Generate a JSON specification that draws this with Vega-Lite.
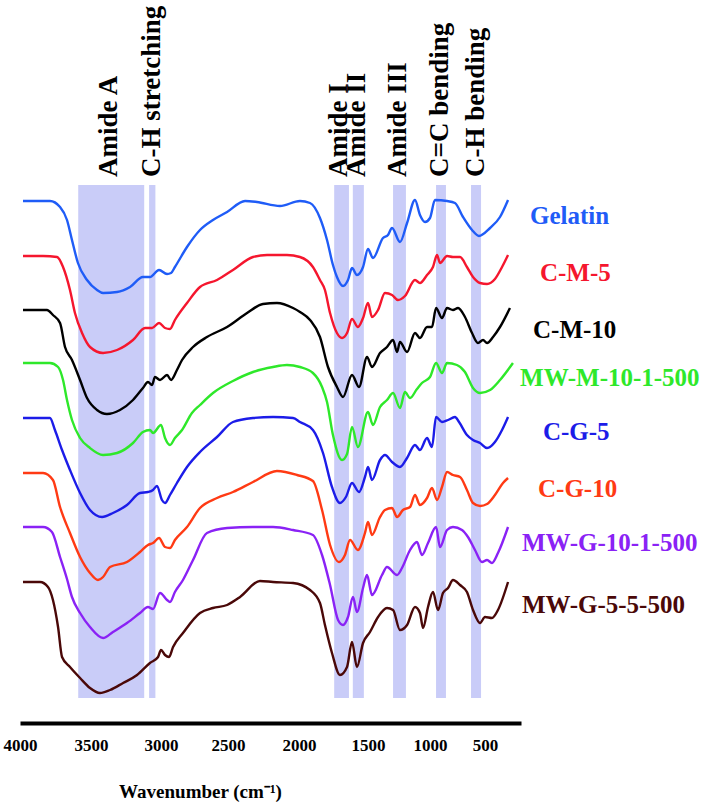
{
  "$schema": "https://vega.github.io/schema/vega-lite/v6.json",
  "width": 690,
  "height": 723,
  "autosize": "none",
  "padding": {"left": 20, "top": 0, "right": 0, "bottom": 85},
  "background": "white",
  "config": {"view": {"stroke": null}},
  "datasets": {
    "bands": [
      {"band": "Amide A", "x": 3590, "xe": 3120},
      {"band": "C-H stretching", "x": 3085, "xe": 3040},
      {"band": "Amide I", "x": 1745, "xe": 1638},
      {"band": "Amide II", "x": 1610, "xe": 1530},
      {"band": "Amide III", "x": 1298, "xe": 1194},
      {"band": "C=C bending", "x": 945, "xe": 855},
      {"band": "C-H bending", "x": 627, "xe": 536}
    ],
    "bandLabels": [
      {"label": "Amide A", "x": 3370},
      {"label": "C-H stretching", "x": 3064},
      {"label": "Amide I", "x": 1712},
      {"label": "Amide II", "x": 1578},
      {"label": "Amide III", "x": 1262},
      {"label": "C=C bending", "x": 905},
      {"label": "C-H bending", "x": 578}
    ],
    "seriesLabels": [
      {"s": "Gelatin", "x": 125, "y": 50.7},
      {"s": "C-M-5", "x": 42, "y": 45.0},
      {"s": "C-M-10", "x": 100, "y": 39.3},
      {"s": "MW-M-10-1-500", "x": 208, "y": 34.5},
      {"s": "C-G-5", "x": 17, "y": 29.1},
      {"s": "C-G-10", "x": 58, "y": 23.4},
      {"s": "MW-G-10-1-500", "x": 192, "y": 18.0},
      {"s": "MW-G-5-5-500", "x": 192, "y": 11.8}
    ],
    "spectra": [
      {"s":"Gelatin","x":3979,"y":52.2},{"s":"Gelatin","x":3789,"y":52.2},{"s":"Gelatin","x":3718,"y":51.6},{"s":"Gelatin","x":3669,"y":50.3},{"s":"Gelatin","x":3634,"y":48.3},{"s":"Gelatin","x":3592,"y":46.0},{"s":"Gelatin","x":3528,"y":44.3},{"s":"Gelatin","x":3457,"y":43.3},{"s":"Gelatin","x":3414,"y":43.0},{"s":"Gelatin","x":3314,"y":43.1},{"s":"Gelatin","x":3221,"y":43.6},{"s":"Gelatin","x":3129,"y":44.6},{"s":"Gelatin","x":3079,"y":44.6},{"s":"Gelatin","x":3014,"y":45.3},{"s":"Gelatin","x":2955,"y":44.9},{"s":"Gelatin","x":2925,"y":45.0},{"s":"Gelatin","x":2896,"y":45.6},{"s":"Gelatin","x":2806,"y":47.6},{"s":"Gelatin","x":2709,"y":49.3},{"s":"Gelatin","x":2612,"y":50.3},{"s":"Gelatin","x":2507,"y":51.1},{"s":"Gelatin","x":2380,"y":52.2},{"s":"Gelatin","x":2296,"y":52.1},{"s":"Gelatin","x":2134,"y":51.7},{"s":"Gelatin","x":1993,"y":52.2},{"s":"Gelatin","x":1920,"y":52.0},{"s":"Gelatin","x":1848,"y":50.5},{"s":"Gelatin","x":1797,"y":48.3},{"s":"Gelatin","x":1754,"y":45.8},{"s":"Gelatin","x":1725,"y":44.6},{"s":"Gelatin","x":1681,"y":43.7},{"s":"Gelatin","x":1645,"y":44.3},{"s":"Gelatin","x":1616,"y":45.5},{"s":"Gelatin","x":1580,"y":44.8},{"s":"Gelatin","x":1536,"y":45.6},{"s":"Gelatin","x":1500,"y":47.4},{"s":"Gelatin","x":1460,"y":46.5},{"s":"Gelatin","x":1379,"y":48.5},{"s":"Gelatin","x":1339,"y":48.8},{"s":"Gelatin","x":1306,"y":49.5},{"s":"Gelatin","x":1242,"y":48.1},{"s":"Gelatin","x":1185,"y":50.0},{"s":"Gelatin","x":1121,"y":52.3},{"s":"Gelatin","x":1081,"y":50.8},{"s":"Gelatin","x":1040,"y":50.1},{"s":"Gelatin","x":1000,"y":50.5},{"s":"Gelatin","x":955,"y":52.3},{"s":"Gelatin","x":845,"y":52.2},{"s":"Gelatin","x":773,"y":52.0},{"s":"Gelatin","x":700,"y":50.6},{"s":"Gelatin","x":618,"y":49.3},{"s":"Gelatin","x":555,"y":48.7},{"s":"Gelatin","x":458,"y":49.5},{"s":"Gelatin","x":375,"y":50.6},{"s":"Gelatin","x":308,"y":52.3},
      {"s":"C-M-5","x":3979,"y":46.7},{"s":"C-M-5","x":3838,"y":46.7},{"s":"C-M-5","x":3739,"y":46.6},{"s":"C-M-5","x":3697,"y":45.6},{"s":"C-M-5","x":3648,"y":43.3},{"s":"C-M-5","x":3613,"y":41.0},{"s":"C-M-5","x":3563,"y":39.0},{"s":"C-M-5","x":3507,"y":37.6},{"s":"C-M-5","x":3414,"y":37.0},{"s":"C-M-5","x":3314,"y":37.3},{"s":"C-M-5","x":3200,"y":38.3},{"s":"C-M-5","x":3114,"y":39.5},{"s":"C-M-5","x":3064,"y":39.5},{"s":"C-M-5","x":3014,"y":40.0},{"s":"C-M-5","x":2970,"y":39.5},{"s":"C-M-5","x":2933,"y":39.4},{"s":"C-M-5","x":2896,"y":40.3},{"s":"C-M-5","x":2806,"y":42.0},{"s":"C-M-5","x":2709,"y":43.6},{"s":"C-M-5","x":2582,"y":44.3},{"s":"C-M-5","x":2465,"y":45.3},{"s":"C-M-5","x":2324,"y":46.6},{"s":"C-M-5","x":2225,"y":46.8},{"s":"C-M-5","x":2085,"y":46.8},{"s":"C-M-5","x":1993,"y":46.6},{"s":"C-M-5","x":1899,"y":45.6},{"s":"C-M-5","x":1848,"y":44.3},{"s":"C-M-5","x":1812,"y":43.3},{"s":"C-M-5","x":1775,"y":41.0},{"s":"C-M-5","x":1725,"y":39.0},{"s":"C-M-5","x":1688,"y":38.5},{"s":"C-M-5","x":1652,"y":39.0},{"s":"C-M-5","x":1616,"y":40.4},{"s":"C-M-5","x":1573,"y":39.6},{"s":"C-M-5","x":1536,"y":40.5},{"s":"C-M-5","x":1500,"y":42.0},{"s":"C-M-5","x":1468,"y":40.6},{"s":"C-M-5","x":1419,"y":41.3},{"s":"C-M-5","x":1363,"y":43.0},{"s":"C-M-5","x":1306,"y":42.8},{"s":"C-M-5","x":1258,"y":42.3},{"s":"C-M-5","x":1202,"y":42.7},{"s":"C-M-5","x":1121,"y":44.3},{"s":"C-M-5","x":1081,"y":44.0},{"s":"C-M-5","x":1024,"y":44.8},{"s":"C-M-5","x":973,"y":45.6},{"s":"C-M-5","x":936,"y":46.8},{"s":"C-M-5","x":909,"y":46.0},{"s":"C-M-5","x":845,"y":46.7},{"s":"C-M-5","x":791,"y":46.6},{"s":"C-M-5","x":727,"y":46.6},{"s":"C-M-5","x":664,"y":45.6},{"s":"C-M-5","x":609,"y":44.6},{"s":"C-M-5","x":545,"y":44.0},{"s":"C-M-5","x":483,"y":43.9},{"s":"C-M-5","x":417,"y":44.4},{"s":"C-M-5","x":358,"y":45.6},{"s":"C-M-5","x":308,"y":46.8},
      {"s":"C-M-10","x":3979,"y":41.3},{"s":"C-M-10","x":3810,"y":41.3},{"s":"C-M-10","x":3768,"y":40.8},{"s":"C-M-10","x":3718,"y":40.0},{"s":"C-M-10","x":3683,"y":37.6},{"s":"C-M-10","x":3634,"y":36.3},{"s":"C-M-10","x":3577,"y":34.3},{"s":"C-M-10","x":3528,"y":32.5},{"s":"C-M-10","x":3457,"y":31.3},{"s":"C-M-10","x":3386,"y":30.9},{"s":"C-M-10","x":3293,"y":31.3},{"s":"C-M-10","x":3200,"y":32.3},{"s":"C-M-10","x":3129,"y":33.5},{"s":"C-M-10","x":3093,"y":34.1},{"s":"C-M-10","x":3064,"y":33.8},{"s":"C-M-10","x":3043,"y":34.6},{"s":"C-M-10","x":3007,"y":34.3},{"s":"C-M-10","x":2955,"y":34.8},{"s":"C-M-10","x":2925,"y":34.3},{"s":"C-M-10","x":2881,"y":35.3},{"s":"C-M-10","x":2843,"y":36.3},{"s":"C-M-10","x":2761,"y":37.6},{"s":"C-M-10","x":2657,"y":38.6},{"s":"C-M-10","x":2507,"y":39.6},{"s":"C-M-10","x":2366,"y":41.0},{"s":"C-M-10","x":2254,"y":41.9},{"s":"C-M-10","x":2155,"y":42.0},{"s":"C-M-10","x":2042,"y":41.5},{"s":"C-M-10","x":1993,"y":41.1},{"s":"C-M-10","x":1920,"y":40.3},{"s":"C-M-10","x":1848,"y":38.6},{"s":"C-M-10","x":1790,"y":35.6},{"s":"C-M-10","x":1725,"y":33.6},{"s":"C-M-10","x":1681,"y":32.6},{"s":"C-M-10","x":1616,"y":34.8},{"s":"C-M-10","x":1565,"y":33.6},{"s":"C-M-10","x":1507,"y":36.6},{"s":"C-M-10","x":1468,"y":35.6},{"s":"C-M-10","x":1403,"y":37.0},{"s":"C-M-10","x":1347,"y":37.6},{"s":"C-M-10","x":1298,"y":38.3},{"s":"C-M-10","x":1266,"y":37.1},{"s":"C-M-10","x":1242,"y":38.1},{"s":"C-M-10","x":1185,"y":37.1},{"s":"C-M-10","x":1121,"y":39.0},{"s":"C-M-10","x":1081,"y":38.5},{"s":"C-M-10","x":1024,"y":39.6},{"s":"C-M-10","x":982,"y":39.6},{"s":"C-M-10","x":945,"y":41.5},{"s":"C-M-10","x":891,"y":40.5},{"s":"C-M-10","x":845,"y":41.5},{"s":"C-M-10","x":791,"y":41.3},{"s":"C-M-10","x":745,"y":41.5},{"s":"C-M-10","x":682,"y":40.6},{"s":"C-M-10","x":618,"y":39.0},{"s":"C-M-10","x":564,"y":38.0},{"s":"C-M-10","x":518,"y":38.3},{"s":"C-M-10","x":483,"y":38.0},{"s":"C-M-10","x":433,"y":38.6},{"s":"C-M-10","x":375,"y":39.6},{"s":"C-M-10","x":292,"y":41.5},
      {"s":"MW-M-10-1-500","x":3979,"y":36.0},{"s":"MW-M-10-1-500","x":3789,"y":36.0},{"s":"MW-M-10-1-500","x":3732,"y":35.6},{"s":"MW-M-10-1-500","x":3697,"y":34.3},{"s":"MW-M-10-1-500","x":3669,"y":32.3},{"s":"MW-M-10-1-500","x":3634,"y":30.3},{"s":"MW-M-10-1-500","x":3577,"y":28.5},{"s":"MW-M-10-1-500","x":3507,"y":27.5},{"s":"MW-M-10-1-500","x":3414,"y":26.8},{"s":"MW-M-10-1-500","x":3314,"y":27.0},{"s":"MW-M-10-1-500","x":3200,"y":28.0},{"s":"MW-M-10-1-500","x":3129,"y":29.1},{"s":"MW-M-10-1-500","x":3079,"y":29.3},{"s":"MW-M-10-1-500","x":3057,"y":29.0},{"s":"MW-M-10-1-500","x":3000,"y":29.8},{"s":"MW-M-10-1-500","x":2970,"y":28.5},{"s":"MW-M-10-1-500","x":2933,"y":27.8},{"s":"MW-M-10-1-500","x":2896,"y":28.5},{"s":"MW-M-10-1-500","x":2843,"y":29.3},{"s":"MW-M-10-1-500","x":2769,"y":31.0},{"s":"MW-M-10-1-500","x":2709,"y":31.8},{"s":"MW-M-10-1-500","x":2612,"y":33.0},{"s":"MW-M-10-1-500","x":2465,"y":34.2},{"s":"MW-M-10-1-500","x":2324,"y":35.1},{"s":"MW-M-10-1-500","x":2183,"y":35.6},{"s":"MW-M-10-1-500","x":2085,"y":35.8},{"s":"MW-M-10-1-500","x":1993,"y":35.6},{"s":"MW-M-10-1-500","x":1899,"y":35.0},{"s":"MW-M-10-1-500","x":1833,"y":33.6},{"s":"MW-M-10-1-500","x":1797,"y":32.1},{"s":"MW-M-10-1-500","x":1754,"y":28.8},{"s":"MW-M-10-1-500","x":1688,"y":26.3},{"s":"MW-M-10-1-500","x":1652,"y":26.9},{"s":"MW-M-10-1-500","x":1616,"y":29.6},{"s":"MW-M-10-1-500","x":1573,"y":27.6},{"s":"MW-M-10-1-500","x":1500,"y":31.1},{"s":"MW-M-10-1-500","x":1460,"y":29.8},{"s":"MW-M-10-1-500","x":1403,"y":31.6},{"s":"MW-M-10-1-500","x":1347,"y":32.3},{"s":"MW-M-10-1-500","x":1298,"y":33.0},{"s":"MW-M-10-1-500","x":1242,"y":31.5},{"s":"MW-M-10-1-500","x":1202,"y":33.1},{"s":"MW-M-10-1-500","x":1161,"y":32.5},{"s":"MW-M-10-1-500","x":1105,"y":33.4},{"s":"MW-M-10-1-500","x":1065,"y":34.0},{"s":"MW-M-10-1-500","x":1000,"y":34.6},{"s":"MW-M-10-1-500","x":945,"y":36.0},{"s":"MW-M-10-1-500","x":891,"y":35.0},{"s":"MW-M-10-1-500","x":845,"y":36.0},{"s":"MW-M-10-1-500","x":755,"y":35.8},{"s":"MW-M-10-1-500","x":682,"y":35.1},{"s":"MW-M-10-1-500","x":609,"y":33.5},{"s":"MW-M-10-1-500","x":545,"y":33.0},{"s":"MW-M-10-1-500","x":458,"y":33.3},{"s":"MW-M-10-1-500","x":375,"y":34.3},{"s":"MW-M-10-1-500","x":267,"y":36.0},
      {"s":"C-G-5","x":3979,"y":30.5},{"s":"C-G-5","x":3789,"y":30.5},{"s":"C-G-5","x":3754,"y":29.3},{"s":"C-G-5","x":3704,"y":27.3},{"s":"C-G-5","x":3648,"y":25.3},{"s":"C-G-5","x":3577,"y":23.0},{"s":"C-G-5","x":3507,"y":21.3},{"s":"C-G-5","x":3421,"y":20.6},{"s":"C-G-5","x":3343,"y":21.0},{"s":"C-G-5","x":3243,"y":21.8},{"s":"C-G-5","x":3150,"y":23.0},{"s":"C-G-5","x":3093,"y":23.1},{"s":"C-G-5","x":3057,"y":23.3},{"s":"C-G-5","x":3029,"y":23.7},{"s":"C-G-5","x":2993,"y":22.3},{"s":"C-G-5","x":2970,"y":22.0},{"s":"C-G-5","x":2933,"y":22.8},{"s":"C-G-5","x":2881,"y":24.0},{"s":"C-G-5","x":2806,"y":25.6},{"s":"C-G-5","x":2709,"y":27.1},{"s":"C-G-5","x":2582,"y":28.6},{"s":"C-G-5","x":2465,"y":30.1},{"s":"C-G-5","x":2324,"y":30.5},{"s":"C-G-5","x":2183,"y":30.6},{"s":"C-G-5","x":2042,"y":30.5},{"s":"C-G-5","x":1993,"y":30.1},{"s":"C-G-5","x":1899,"y":29.3},{"s":"C-G-5","x":1826,"y":27.0},{"s":"C-G-5","x":1761,"y":23.6},{"s":"C-G-5","x":1703,"y":22.0},{"s":"C-G-5","x":1660,"y":22.6},{"s":"C-G-5","x":1616,"y":24.0},{"s":"C-G-5","x":1565,"y":23.1},{"s":"C-G-5","x":1522,"y":24.6},{"s":"C-G-5","x":1500,"y":25.6},{"s":"C-G-5","x":1468,"y":24.3},{"s":"C-G-5","x":1403,"y":26.3},{"s":"C-G-5","x":1363,"y":26.8},{"s":"C-G-5","x":1306,"y":26.1},{"s":"C-G-5","x":1242,"y":25.6},{"s":"C-G-5","x":1185,"y":26.5},{"s":"C-G-5","x":1121,"y":27.8},{"s":"C-G-5","x":1081,"y":27.3},{"s":"C-G-5","x":1024,"y":28.5},{"s":"C-G-5","x":982,"y":27.6},{"s":"C-G-5","x":945,"y":30.6},{"s":"C-G-5","x":891,"y":30.1},{"s":"C-G-5","x":836,"y":30.3},{"s":"C-G-5","x":773,"y":30.6},{"s":"C-G-5","x":736,"y":30.1},{"s":"C-G-5","x":664,"y":28.8},{"s":"C-G-5","x":609,"y":28.3},{"s":"C-G-5","x":545,"y":28.0},{"s":"C-G-5","x":483,"y":27.5},{"s":"C-G-5","x":417,"y":28.1},{"s":"C-G-5","x":358,"y":29.3},{"s":"C-G-5","x":308,"y":30.6},
      {"s":"C-G-10","x":3979,"y":25.0},{"s":"C-G-10","x":3838,"y":25.0},{"s":"C-G-10","x":3768,"y":24.3},{"s":"C-G-10","x":3718,"y":21.6},{"s":"C-G-10","x":3648,"y":19.0},{"s":"C-G-10","x":3577,"y":16.6},{"s":"C-G-10","x":3507,"y":15.0},{"s":"C-G-10","x":3450,"y":14.3},{"s":"C-G-10","x":3414,"y":14.6},{"s":"C-G-10","x":3364,"y":15.6},{"s":"C-G-10","x":3243,"y":16.1},{"s":"C-G-10","x":3150,"y":17.1},{"s":"C-G-10","x":3093,"y":17.8},{"s":"C-G-10","x":3057,"y":18.0},{"s":"C-G-10","x":3014,"y":18.5},{"s":"C-G-10","x":2970,"y":17.6},{"s":"C-G-10","x":2933,"y":17.5},{"s":"C-G-10","x":2896,"y":18.3},{"s":"C-G-10","x":2806,"y":19.6},{"s":"C-G-10","x":2709,"y":21.5},{"s":"C-G-10","x":2582,"y":22.5},{"s":"C-G-10","x":2465,"y":23.1},{"s":"C-G-10","x":2324,"y":24.1},{"s":"C-G-10","x":2155,"y":25.2},{"s":"C-G-10","x":2014,"y":24.8},{"s":"C-G-10","x":1899,"y":24.2},{"s":"C-G-10","x":1833,"y":21.3},{"s":"C-G-10","x":1775,"y":17.8},{"s":"C-G-10","x":1710,"y":16.1},{"s":"C-G-10","x":1667,"y":16.8},{"s":"C-G-10","x":1630,"y":18.3},{"s":"C-G-10","x":1573,"y":17.3},{"s":"C-G-10","x":1522,"y":19.0},{"s":"C-G-10","x":1500,"y":20.1},{"s":"C-G-10","x":1468,"y":18.8},{"s":"C-G-10","x":1403,"y":20.6},{"s":"C-G-10","x":1363,"y":21.3},{"s":"C-G-10","x":1306,"y":21.5},{"s":"C-G-10","x":1266,"y":20.6},{"s":"C-G-10","x":1218,"y":21.3},{"s":"C-G-10","x":1161,"y":21.6},{"s":"C-G-10","x":1121,"y":22.8},{"s":"C-G-10","x":1081,"y":21.8},{"s":"C-G-10","x":1024,"y":22.5},{"s":"C-G-10","x":982,"y":23.5},{"s":"C-G-10","x":936,"y":22.3},{"s":"C-G-10","x":891,"y":23.6},{"s":"C-G-10","x":845,"y":25.1},{"s":"C-G-10","x":791,"y":24.8},{"s":"C-G-10","x":727,"y":24.6},{"s":"C-G-10","x":664,"y":23.3},{"s":"C-G-10","x":609,"y":22.0},{"s":"C-G-10","x":545,"y":21.7},{"s":"C-G-10","x":483,"y":21.9},{"s":"C-G-10","x":417,"y":22.8},{"s":"C-G-10","x":350,"y":24.0},{"s":"C-G-10","x":308,"y":24.5},
      {"s":"MW-G-10-1-500","x":3979,"y":19.6},{"s":"MW-G-10-1-500","x":3838,"y":19.6},{"s":"MW-G-10-1-500","x":3775,"y":19.1},{"s":"MW-G-10-1-500","x":3718,"y":16.6},{"s":"MW-G-10-1-500","x":3669,"y":14.4},{"s":"MW-G-10-1-500","x":3634,"y":12.6},{"s":"MW-G-10-1-500","x":3577,"y":11.0},{"s":"MW-G-10-1-500","x":3507,"y":9.6},{"s":"MW-G-10-1-500","x":3414,"y":8.5},{"s":"MW-G-10-1-500","x":3343,"y":9.1},{"s":"MW-G-10-1-500","x":3243,"y":10.0},{"s":"MW-G-10-1-500","x":3150,"y":11.0},{"s":"MW-G-10-1-500","x":3093,"y":11.6},{"s":"MW-G-10-1-500","x":3057,"y":11.4},{"s":"MW-G-10-1-500","x":3007,"y":13.0},{"s":"MW-G-10-1-500","x":2955,"y":12.3},{"s":"MW-G-10-1-500","x":2933,"y":12.1},{"s":"MW-G-10-1-500","x":2896,"y":13.1},{"s":"MW-G-10-1-500","x":2836,"y":14.3},{"s":"MW-G-10-1-500","x":2761,"y":16.3},{"s":"MW-G-10-1-500","x":2657,"y":19.0},{"s":"MW-G-10-1-500","x":2507,"y":19.5},{"s":"MW-G-10-1-500","x":2324,"y":19.6},{"s":"MW-G-10-1-500","x":2183,"y":19.6},{"s":"MW-G-10-1-500","x":2042,"y":19.3},{"s":"MW-G-10-1-500","x":1899,"y":18.8},{"s":"MW-G-10-1-500","x":1833,"y":16.8},{"s":"MW-G-10-1-500","x":1775,"y":13.8},{"s":"MW-G-10-1-500","x":1717,"y":10.3},{"s":"MW-G-10-1-500","x":1681,"y":9.8},{"s":"MW-G-10-1-500","x":1645,"y":10.6},{"s":"MW-G-10-1-500","x":1609,"y":12.6},{"s":"MW-G-10-1-500","x":1580,"y":11.1},{"s":"MW-G-10-1-500","x":1536,"y":13.5},{"s":"MW-G-10-1-500","x":1507,"y":14.8},{"s":"MW-G-10-1-500","x":1468,"y":12.8},{"s":"MW-G-10-1-500","x":1387,"y":14.8},{"s":"MW-G-10-1-500","x":1347,"y":15.6},{"s":"MW-G-10-1-500","x":1266,"y":14.8},{"s":"MW-G-10-1-500","x":1226,"y":15.5},{"s":"MW-G-10-1-500","x":1161,"y":17.3},{"s":"MW-G-10-1-500","x":1105,"y":18.1},{"s":"MW-G-10-1-500","x":1065,"y":16.8},{"s":"MW-G-10-1-500","x":1016,"y":18.0},{"s":"MW-G-10-1-500","x":945,"y":19.6},{"s":"MW-G-10-1-500","x":909,"y":17.6},{"s":"MW-G-10-1-500","x":845,"y":19.3},{"s":"MW-G-10-1-500","x":791,"y":19.6},{"s":"MW-G-10-1-500","x":709,"y":19.3},{"s":"MW-G-10-1-500","x":655,"y":18.6},{"s":"MW-G-10-1-500","x":591,"y":17.3},{"s":"MW-G-10-1-500","x":527,"y":16.1},{"s":"MW-G-10-1-500","x":483,"y":16.3},{"s":"MW-G-10-1-500","x":442,"y":16.0},{"s":"MW-G-10-1-500","x":392,"y":17.0},{"s":"MW-G-10-1-500","x":308,"y":19.6},
      {"s":"MW-G-5-5-500","x":3979,"y":14.1},{"s":"MW-G-5-5-500","x":3859,"y":14.1},{"s":"MW-G-5-5-500","x":3803,"y":13.6},{"s":"MW-G-5-5-500","x":3768,"y":12.3},{"s":"MW-G-5-5-500","x":3732,"y":9.6},{"s":"MW-G-5-5-500","x":3704,"y":6.6},{"s":"MW-G-5-5-500","x":3648,"y":5.6},{"s":"MW-G-5-5-500","x":3577,"y":4.5},{"s":"MW-G-5-5-500","x":3507,"y":3.5},{"s":"MW-G-5-5-500","x":3436,"y":3.0},{"s":"MW-G-5-5-500","x":3364,"y":3.3},{"s":"MW-G-5-5-500","x":3271,"y":4.0},{"s":"MW-G-5-5-500","x":3171,"y":4.8},{"s":"MW-G-5-5-500","x":3079,"y":6.0},{"s":"MW-G-5-5-500","x":3021,"y":6.6},{"s":"MW-G-5-5-500","x":3000,"y":7.3},{"s":"MW-G-5-5-500","x":2970,"y":6.8},{"s":"MW-G-5-5-500","x":2940,"y":6.6},{"s":"MW-G-5-5-500","x":2910,"y":7.6},{"s":"MW-G-5-5-500","x":2836,"y":9.0},{"s":"MW-G-5-5-500","x":2709,"y":11.0},{"s":"MW-G-5-5-500","x":2612,"y":11.5},{"s":"MW-G-5-5-500","x":2507,"y":11.8},{"s":"MW-G-5-5-500","x":2415,"y":12.6},{"s":"MW-G-5-5-500","x":2275,"y":14.2},{"s":"MW-G-5-5-500","x":2183,"y":14.1},{"s":"MW-G-5-5-500","x":2042,"y":14.0},{"s":"MW-G-5-5-500","x":1920,"y":13.3},{"s":"MW-G-5-5-500","x":1848,"y":12.0},{"s":"MW-G-5-5-500","x":1812,"y":9.8},{"s":"MW-G-5-5-500","x":1761,"y":7.0},{"s":"MW-G-5-5-500","x":1703,"y":4.8},{"s":"MW-G-5-5-500","x":1652,"y":5.6},{"s":"MW-G-5-5-500","x":1616,"y":8.1},{"s":"MW-G-5-5-500","x":1580,"y":5.6},{"s":"MW-G-5-5-500","x":1536,"y":8.0},{"s":"MW-G-5-5-500","x":1484,"y":9.1},{"s":"MW-G-5-5-500","x":1419,"y":10.6},{"s":"MW-G-5-5-500","x":1347,"y":11.5},{"s":"MW-G-5-5-500","x":1298,"y":11.3},{"s":"MW-G-5-5-500","x":1242,"y":9.3},{"s":"MW-G-5-5-500","x":1185,"y":9.8},{"s":"MW-G-5-5-500","x":1121,"y":11.6},{"s":"MW-G-5-5-500","x":1081,"y":11.0},{"s":"MW-G-5-5-500","x":1056,"y":9.5},{"s":"MW-G-5-5-500","x":1016,"y":11.6},{"s":"MW-G-5-5-500","x":973,"y":13.1},{"s":"MW-G-5-5-500","x":927,"y":11.3},{"s":"MW-G-5-5-500","x":882,"y":13.0},{"s":"MW-G-5-5-500","x":836,"y":13.5},{"s":"MW-G-5-5-500","x":791,"y":14.3},{"s":"MW-G-5-5-500","x":727,"y":13.8},{"s":"MW-G-5-5-500","x":664,"y":13.1},{"s":"MW-G-5-5-500","x":609,"y":11.3},{"s":"MW-G-5-5-500","x":545,"y":10.0},{"s":"MW-G-5-5-500","x":500,"y":10.6},{"s":"MW-G-5-5-500","x":442,"y":10.5},{"s":"MW-G-5-5-500","x":392,"y":11.3},{"s":"MW-G-5-5-500","x":308,"y":14.1}
    ]
  },
  "encoding": {
    "x": {
      "field": "x",
      "type": "quantitative",
      "scale": {
        "domain": [4000, 3500, 3000, 2500, 2000, 1500, 1000, 500, 200],
        "range": [0, 71, 141, 208, 279, 348, 410, 465, 501],
        "nice": false,
        "zero": false
      },
      "axis": {
        "values": [4000, 3500, 3000, 2500, 2000, 1500, 1000, 500],
        "ticks": false,
        "grid": false,
        "domainColor": "black",
        "domainWidth": 4,
        "labelFont": "Liberation Serif",
        "labelFontWeight": "bold",
        "labelFontSize": 17,
        "labelColor": "black",
        "labelPadding": 14,
        "labelFlush": false,
        "labelOverlap": false,
        "format": "d",
        "title": "Wavenumber (cm⁻¹)",
        "titleFont": "Liberation Serif",
        "titleFontSize": 19,
        "titleFontWeight": "bold",
        "titleColor": "black",
        "titleX": 180,
        "titleY": 74,
        "titleAlign": "center",
        "titleAnchor": null,
        "titleBaseline": "alphabetic"
      }
    }
  },
  "layer": [
    {
      "data": {"name": "bands"},
      "mark": {"type": "rect", "color": "#c9ccf8", "opacity": 1},
      "encoding": {
        "x2": {"field": "xe"},
        "y": {"datum": 2.5, "type": "quantitative", "scale": {"domain": [0, 72.3], "nice": false, "zero": false}, "axis": null},
        "y2": {"datum": 53.8}
      }
    },
    {
      "data": {"name": "spectra"},
      "mark": {"type": "line", "strokeWidth": 2.4, "interpolate": "monotone"},
      "encoding": {
        "y": {"field": "y", "type": "quantitative", "axis": null},
        "color": {
          "field": "s",
          "type": "nominal",
          "scale": {
            "domain": ["Gelatin", "C-M-5", "C-M-10", "MW-M-10-1-500", "C-G-5", "C-G-10", "MW-G-10-1-500", "MW-G-5-5-500"],
            "range": ["#1f5cf7", "#f5162e", "#000000", "#2ee82a", "#1c1ce8", "#ff3a14", "#8a22f5", "#4a0808"]
          },
          "legend": null
        }
      }
    },
    {
      "data": {"name": "bandLabels"},
      "mark": {"type": "text", "angle": 270, "align": "left", "baseline": "middle", "font": "Liberation Serif", "fontWeight": "bold", "fontSize": 27, "color": "black"},
      "encoding": {
        "y": {"datum": 54.6, "type": "quantitative", "axis": null},
        "text": {"field": "label"}
      }
    },
    {
      "data": {"name": "seriesLabels"},
      "mark": {"type": "text", "align": "left", "baseline": "middle", "font": "Liberation Serif", "fontWeight": "bold", "fontSize": 25},
      "encoding": {
        "y": {"field": "y", "type": "quantitative", "axis": null},
        "text": {"field": "s"},
        "color": {"field": "s", "type": "nominal", "legend": null}
      }
    }
  ]
}
